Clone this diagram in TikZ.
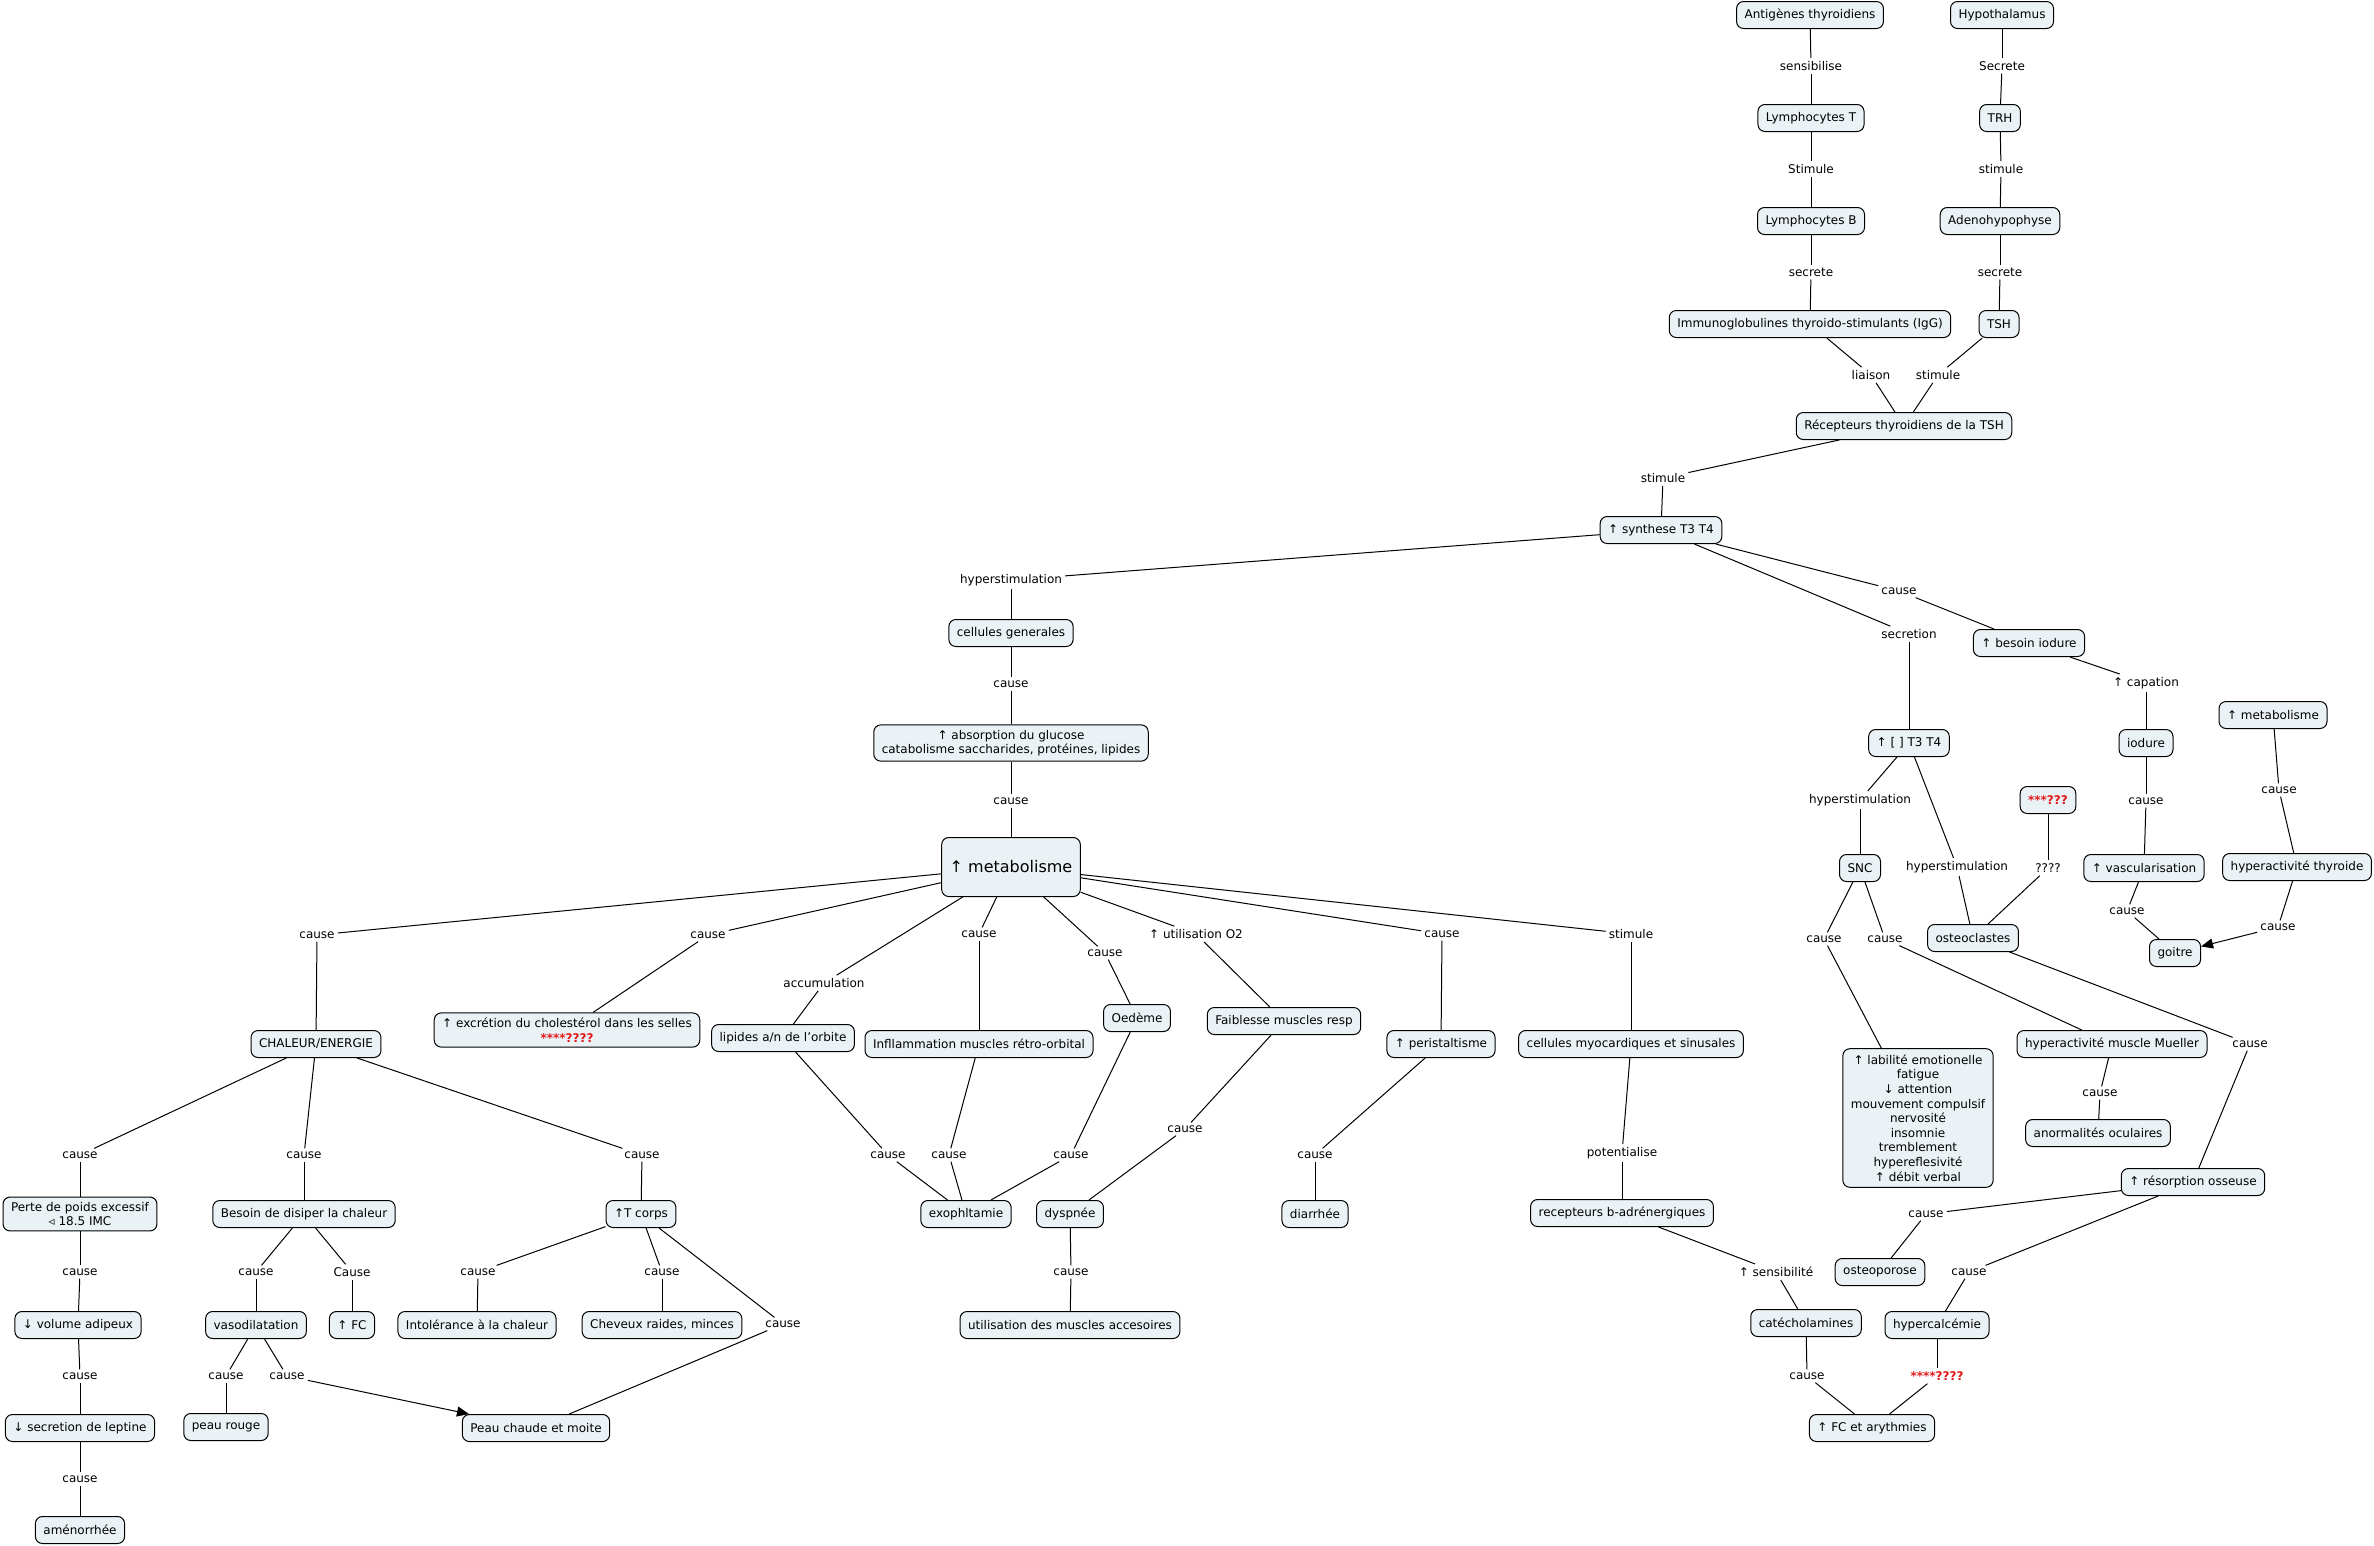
\documentclass[tikz,border=0pt]{standalone}
\usepackage{fontspec}
\setmainfont{DejaVu Sans}
\usetikzlibrary{arrows.meta}
\definecolor{boxfill}{RGB}{235,242,245}
\definecolor{rouge}{RGB}{225,25,25}
\newcommand\cmlink[3]{\draw[conn] (#1) -- (#2); \draw[conn] (#2) -- (#3);}
\newcommand\cmlinkarrow[3]{\draw[conn] (#1) -- (#2); \draw[conn,tip] (#2) -- (#3);}
\begin{document}
\begin{tikzpicture}[x=1pt,y=-1pt,
  every node/.style={font=\fontsize{12}{14.6}\selectfont},
  box/.style={draw, rounded corners=7pt, fill=boxfill, line width=1pt, inner xsep=8pt, inner ysep=5pt, minimum height=27pt, align=center},
  lbl/.style={inner sep=3pt, align=center},
  conn/.style={line width=1pt},
  tip/.style={-{Triangle[length=12pt,width=10pt]}}
]
\fill[white] (0,0) rectangle (2374,1545);
\path[use as bounding box] (0,0) rectangle (2374,1545);

% ---------- boxes ----------
\node[box] (ant) at (1810,15) {Antigènes thyroidiens};
\node[box] (hyp) at (2002,15) {Hypothalamus};
\node[box] (lymT) at (1811,118) {Lymphocytes T};
\node[box] (trh) at (2000,118) {TRH};
\node[box] (lymB) at (1811,221) {Lymphocytes B};
\node[box] (adeno) at (2000,221) {Adenohypophyse};
\node[box] (igg) at (1810,324) {Immunoglobulines thyroido-stimulants (IgG)};
\node[box] (tsh) at (1999,324) {TSH};
\node[box] (rec) at (1904,426) {Récepteurs thyroidiens de la TSH};
\node[box] (syn) at (1661,530) {↑ synthese T3 T4};
\node[box] (cg) at (1011,633) {cellules generales};
\node[box] (abs) at (1011,743) {↑ absorption du glucose\\catabolisme saccharides, protéines, lipides};
\node[box, font=\fontsize{16}{19}\selectfont, minimum width=138pt, minimum height=59pt] (met) at (1011,867) {↑ metabolisme};
\node[box] (bes) at (2029,643) {↑ besoin iodure};
\node[box] (t34) at (1909,743) {↑ [ ] T3 T4};
\node[box] (iod) at (2146,743) {iodure};
\node[box] (metR) at (2273,715) {↑ metabolisme};
\node[box] (qbox) at (2048,800) {\color{rouge}\bfseries ***???};
\node[box] (snc) at (1860,868) {SNC};
\node[box] (vasc) at (2144,868) {↑ vascularisation};
\node[box] (hthy) at (2297,867) {hyperactivité thyroide};
\node[box] (ostc) at (1973,938) {osteoclastes};
\node[box] (goi) at (2175,953) {goitre};
\node[box] (mue) at (2112,1044) {hyperactivité muscle Mueller};
\node[box, inner ysep=6pt] (lab) at (1918,1118) {↑ labilité emotionelle\\fatigue\\↓ attention\\mouvement compulsif\\nervosité\\insomnie\\tremblement\\hypereflesivité\\↑ débit verbal};
\node[box] (anor) at (2098,1133) {anormalités oculaires};
\node[box] (res) at (2193,1182) {↑ résorption osseuse};
\node[box] (ostp) at (1880,1272) {osteoporose};
\node[box] (hca) at (1937,1325) {hypercalcémie};
\node[box] (fca) at (1872,1428) {↑ FC et arythmies};
\node[box] (cmyo) at (1631,1044) {cellules myocardiques et sinusales};
\node[box] (rb) at (1622,1213) {recepteurs b-adrénergiques};
\node[box] (cat) at (1806,1323) {catécholamines};
\node[box] (chal) at (316,1044) {CHALEUR/ENERGIE};
\node[box] (exc) at (567,1030) {↑ excrétion du cholestérol dans les selles\\{\color{rouge}\bfseries ****????}};
\node[box] (lip) at (783,1038) {lipides a/n de l'orbite};
\node[box] (infl) at (979,1044) {Infllammation muscles rétro-orbital};
\node[box] (oed) at (1137,1018) {Oedème};
\node[box] (faib) at (1284,1021) {Faiblesse muscles resp};
\node[box] (peri) at (1441,1044) {↑ peristaltisme};
\node[box] (perte) at (80,1214) {Perte de poids excessif\\◃ 18.5 IMC};
\node[box] (besd) at (304,1214) {Besoin de disiper la chaleur};
\node[box] (tc) at (641,1214) {↑T corps};
\node[box] (vol) at (78,1325) {↓ volume adipeux};
\node[box] (vaso) at (256,1325) {vasodilatation};
\node[box] (fc) at (352,1325) {↑ FC};
\node[box] (into) at (477,1325) {Intolérance à la chaleur};
\node[box] (chev) at (662,1325) {Cheveux raides, minces};
\node[box] (lep) at (80,1428) {↓ secretion de leptine};
\node[box] (rouge) at (226,1427) {peau rouge};
\node[box] (pchaud) at (536,1428) {Peau chaude et moite};
\node[box] (amen) at (80,1530) {aménorrhée};
\node[box] (exo) at (966,1214) {exophltamie};
\node[box] (dysp) at (1070,1214) {dyspnée};
\node[box] (diar) at (1315,1214) {diarrhée};
\node[box] (umus) at (1070,1325) {utilisation des muscles accesoires};

% ---------- link labels ----------
\node[lbl] (l1) at (1811,66) {sensibilise};
\node[lbl] (l2) at (1811,169) {Stimule};
\node[lbl] (l3) at (1811,272) {secrete};
\node[lbl] (l4) at (2002,66) {Secrete};
\node[lbl] (l5) at (2001,169) {stimule};
\node[lbl] (l6) at (2000,272) {secrete};
\node[lbl] (l7) at (1871,375) {liaison};
\node[lbl] (l8) at (1938,375) {stimule};
\node[lbl] (l9) at (1663,478) {stimule};
\node[lbl] (l10) at (1011,580) {hyperstimulation};
\node[lbl] (l11) at (1899,591) {cause};
\node[lbl] (l12) at (1909,634) {secretion};
\node[lbl] (l13) at (1011,684) {cause};
\node[lbl] (l14) at (1011,801) {cause};
\node[lbl] (l15) at (317,935) {cause};
\node[lbl] (l16) at (708,935) {cause};
\node[lbl] (l17) at (824,983) {accumulation};
\node[lbl] (l18) at (979,934) {cause};
\node[lbl] (l19) at (1105,953) {cause};
\node[lbl] (l20) at (1196,934) {↑ utilisation O2};
\node[lbl] (l21) at (1442,934) {cause};
\node[lbl] (l22) at (1631,934) {stimule};
\node[lbl] (l23) at (80,1155) {cause};
\node[lbl] (l24) at (304,1155) {cause};
\node[lbl] (l25) at (642,1155) {cause};
\node[lbl] (l26) at (80,1272) {cause};
\node[lbl] (l27) at (80,1376) {cause};
\node[lbl] (l28) at (80,1479) {cause};
\node[lbl] (l29) at (256,1272) {cause};
\node[lbl] (l30) at (352,1272) {Cause};
\node[lbl] (l31) at (226,1376) {cause};
\node[lbl] (l32) at (287,1376) {cause};
\node[lbl] (l33) at (478,1272) {cause};
\node[lbl] (l34) at (662,1272) {cause};
\node[lbl] (l35) at (783,1324) {cause};
\node[lbl] (l36) at (888,1155) {cause};
\node[lbl] (l37) at (949,1155) {cause};
\node[lbl] (l38) at (1071,1155) {cause};
\node[lbl] (l39) at (1185,1129) {cause};
\node[lbl] (l40) at (1071,1272) {cause};
\node[lbl] (l41) at (1315,1155) {cause};
\node[lbl] (l42) at (1622,1153) {potentialise};
\node[lbl] (l43) at (1776,1272) {↑ sensibilité};
\node[lbl] (l44) at (1807,1376) {cause};
\node[lbl] (l45) at (1937,1376) {\color{rouge}\bfseries ****????};
\node[lbl] (l46) at (1860,800) {hyperstimulation};
\node[lbl] (l47) at (1957,867) {hyperstimulation};
\node[lbl] (l48) at (2048,868) {????};
\node[lbl] (l49) at (2146,683) {↑ capation};
\node[lbl] (l50) at (2146,801) {cause};
\node[lbl] (l51) at (2127,911) {cause};
\node[lbl] (l52) at (2279,790) {cause};
\node[lbl] (l53) at (2278,927) {cause};
\node[lbl] (l54) at (1824,939) {cause};
\node[lbl] (l55) at (1885,939) {cause};
\node[lbl] (l56) at (2250,1044) {cause};
\node[lbl] (l57) at (2100,1093) {cause};
\node[lbl] (l58) at (1926,1214) {cause};
\node[lbl] (l59) at (1969,1272) {cause};

% ---------- connectors ----------
\cmlink{ant}{l1}{lymT}
\cmlink{lymT}{l2}{lymB}
\cmlink{lymB}{l3}{igg}
\cmlink{hyp}{l4}{trh}
\cmlink{trh}{l5}{adeno}
\cmlink{adeno}{l6}{tsh}
\cmlink{igg}{l7}{rec}
\cmlink{tsh}{l8}{rec}
\cmlink{rec}{l9}{syn}
\cmlink{syn}{l10}{cg}
\cmlink{syn}{l11}{bes}
\cmlink{syn}{l12}{t34}
\cmlink{cg}{l13}{abs}
\cmlink{abs}{l14}{met}
\cmlink{met}{l15}{chal}
\cmlink{met}{l16}{exc}
\cmlink{met}{l17}{lip}
\cmlink{met}{l18}{infl}
\cmlink{met}{l19}{oed}
\cmlink{met}{l20}{faib}
\cmlink{met}{l21}{peri}
\cmlink{met}{l22}{cmyo}
\cmlink{chal}{l23}{perte}
\cmlink{chal}{l24}{besd}
\cmlink{chal}{l25}{tc}
\cmlink{perte}{l26}{vol}
\cmlink{vol}{l27}{lep}
\cmlink{lep}{l28}{amen}
\cmlink{besd}{l29}{vaso}
\cmlink{besd}{l30}{fc}
\cmlink{vaso}{l31}{rouge}
\cmlinkarrow{vaso}{l32}{pchaud}
\cmlink{tc}{l33}{into}
\cmlink{tc}{l34}{chev}
\cmlink{tc}{l35}{pchaud}
\cmlink{lip}{l36}{exo}
\cmlink{infl}{l37}{exo}
\cmlink{oed}{l38}{exo}
\cmlink{faib}{l39}{dysp}
\cmlink{dysp}{l40}{umus}
\cmlink{peri}{l41}{diar}
\cmlink{cmyo}{l42}{rb}
\cmlink{rb}{l43}{cat}
\cmlink{cat}{l44}{fca}
\cmlink{hca}{l45}{fca}
\cmlink{t34}{l46}{snc}
\cmlink{t34}{l47}{ostc}
\cmlink{qbox}{l48}{ostc}
\cmlink{bes}{l49}{iod}
\cmlink{iod}{l50}{vasc}
\cmlink{vasc}{l51}{goi}
\cmlink{metR}{l52}{hthy}
\cmlinkarrow{hthy}{l53}{goi}
\cmlink{snc}{l54}{lab}
\cmlink{snc}{l55}{mue}
\cmlink{ostc}{l56}{res}
\cmlink{mue}{l57}{anor}
\cmlink{res}{l58}{ostp}
\cmlink{res}{l59}{hca}
\end{tikzpicture}
\end{document}
